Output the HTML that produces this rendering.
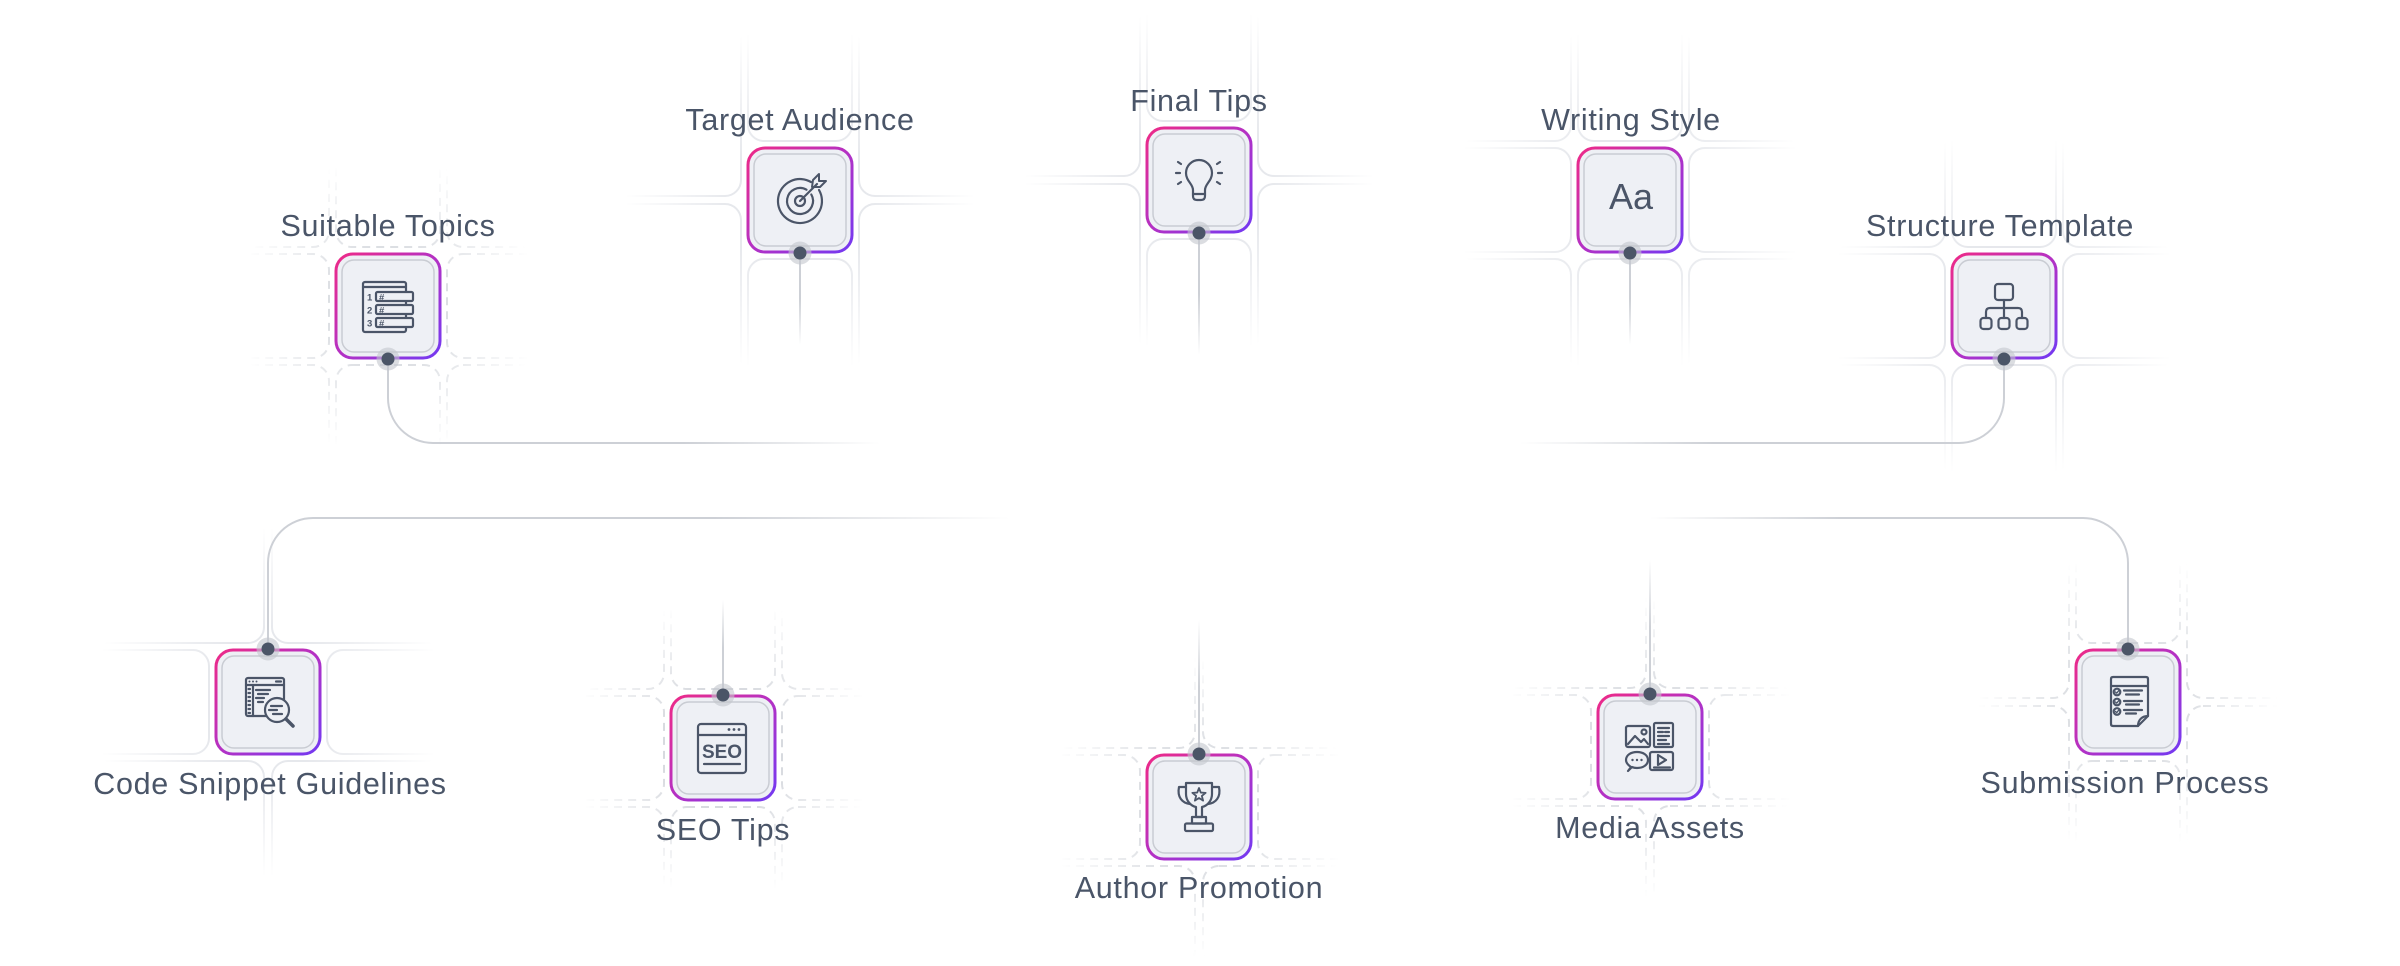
<!DOCTYPE html>
<html>
<head>
<meta charset="utf-8">
<style>
  html, body { margin: 0; padding: 0; background: #ffffff; width: 2400px; height: 966px; overflow: hidden; }
  svg { display: block; position: absolute; left: 0; top: 0; }
  .lbl { font-family: "Liberation Sans", sans-serif; font-size: 30.5px; fill: #4a5568; letter-spacing: 0.7px; text-anchor: middle; }
  .ic { fill: none; stroke: #4b5568; stroke-width: 2.2; stroke-linecap: round; stroke-linejoin: round; }
</style>
</head>
<body>
<svg width="2400" height="966" viewBox="0 0 2400 966" xmlns="http://www.w3.org/2000/svg" overflow="hidden">
<defs>
  <linearGradient id="bord" x1="0" y1="0" x2="1" y2="1">
    <stop offset="0" stop-color="#ee2a87"/>
    <stop offset="0.5" stop-color="#b431c4"/>
    <stop offset="1" stop-color="#7339f2"/>
  </linearGradient>
  <radialGradient id="rf" cx="0.5" cy="0.5" r="0.5">
    <stop offset="0" stop-color="#fff" stop-opacity="1"/>
    <stop offset="0.4" stop-color="#fff" stop-opacity="0.85"/>
    <stop offset="1" stop-color="#fff" stop-opacity="0"/>
  </radialGradient>
  <mask id="mS" maskUnits="userSpaceOnUse" x="-175" y="-175" width="350" height="350">
    <rect x="-175" y="-175" width="350" height="350" fill="url(#rf)"/>
  </mask>
  <mask id="mD" maskUnits="userSpaceOnUse" x="-150" y="-150" width="300" height="300">
    <rect x="-150" y="-150" width="300" height="300" fill="url(#rf)"/>
  </mask>

  <g id="gA">
    <rect x="-52" y="-209" width="104" height="150" rx="16"/>
    <rect x="-52" y="59" width="104" height="150" rx="16"/>
    <rect x="-209" y="-52" width="150" height="104" rx="16"/>
    <rect x="59" y="-52" width="150" height="104" rx="16"/>
    <rect x="-209" y="-209" width="150" height="150" rx="16"/>
    <rect x="59" y="-209" width="150" height="150" rx="16"/>
    <rect x="-209" y="59" width="150" height="150" rx="16"/>
    <rect x="59" y="59" width="150" height="150" rx="16"/>
  </g>
  <g id="gB">
    <rect x="-52" y="-209" width="104" height="150" rx="16"/>
    <rect x="-52" y="59" width="104" height="150" rx="16"/>
    <rect x="-209" y="-209" width="150" height="205" rx="16"/>
    <rect x="-209" y="4" width="150" height="205" rx="16"/>
    <rect x="59" y="-209" width="150" height="205" rx="16"/>
    <rect x="59" y="4" width="150" height="205" rx="16"/>
  </g>
  <g id="gC">
    <rect x="-209" y="-52" width="150" height="104" rx="16"/>
    <rect x="59" y="-52" width="150" height="104" rx="16"/>
    <rect x="-209" y="-209" width="205" height="150" rx="16"/>
    <rect x="4" y="-209" width="205" height="150" rx="16"/>
    <rect x="-209" y="59" width="205" height="150" rx="16"/>
    <rect x="4" y="59" width="205" height="150" rx="16"/>
  </g>
  <g id="gCs">
    <rect x="-209" y="-52" width="150" height="104" rx="16"/>
    <rect x="59" y="-52" width="150" height="104" rx="16"/>
    <rect x="-209" y="-209" width="205" height="150" rx="16"/>
    <rect x="4" y="-209" width="205" height="150" rx="16"/>
    <rect x="-209" y="59" width="205" height="100" rx="16"/>
    <rect x="4" y="59" width="205" height="100" rx="16"/>
  </g>

  <g id="box">
    <rect x="-52" y="-52" width="104" height="104" rx="17" fill="#eef0f5" stroke="url(#bord)" stroke-width="3"/>
    <rect x="-46" y="-46" width="92" height="92" rx="12" fill="none" stroke="#c9ccd3" stroke-width="1.5"/>
  </g>
  <g id="dot">
    <circle r="11.5" fill="#c3c6cd" fill-opacity="0.6"/>
    <circle r="6.5" fill="#4b5567"/>
  </g>

  <linearGradient id="c1" gradientUnits="userSpaceOnUse" x1="388" y1="0" x2="880" y2="0">
    <stop offset="0" stop-color="#cdd0d6"/><stop offset="0.6" stop-color="#cdd0d6"/><stop offset="1" stop-color="#cdd0d6" stop-opacity="0"/>
  </linearGradient>
  <linearGradient id="c2" gradientUnits="userSpaceOnUse" x1="2004" y1="0" x2="1520" y2="0">
    <stop offset="0" stop-color="#cdd0d6"/><stop offset="0.6" stop-color="#cdd0d6"/><stop offset="1" stop-color="#cdd0d6" stop-opacity="0"/>
  </linearGradient>
  <linearGradient id="c3" gradientUnits="userSpaceOnUse" x1="268" y1="0" x2="1010" y2="0">
    <stop offset="0" stop-color="#cdd0d6"/><stop offset="0.6" stop-color="#cdd0d6"/><stop offset="1" stop-color="#cdd0d6" stop-opacity="0"/>
  </linearGradient>
  <linearGradient id="c4" gradientUnits="userSpaceOnUse" x1="2128" y1="0" x2="1650" y2="0">
    <stop offset="0" stop-color="#cdd0d6"/><stop offset="0.6" stop-color="#cdd0d6"/><stop offset="1" stop-color="#cdd0d6" stop-opacity="0"/>
  </linearGradient>
  <linearGradient id="vd" x1="0" y1="0" x2="0" y2="1">
    <stop offset="0" stop-color="#cdd0d6"/><stop offset="0.5" stop-color="#cdd0d6"/><stop offset="1" stop-color="#cdd0d6" stop-opacity="0"/>
  </linearGradient>
  <linearGradient id="vu" x1="0" y1="1" x2="0" y2="0">
    <stop offset="0" stop-color="#cdd0d6"/><stop offset="0.5" stop-color="#cdd0d6"/><stop offset="1" stop-color="#cdd0d6" stop-opacity="0"/>
  </linearGradient>
</defs>

<rect width="2400" height="966" fill="#ffffff"/>

<g fill="none">
  <g transform="translate(800,200)" mask="url(#mS)"><use href="#gB" stroke="#e2e4e9" stroke-width="2"/></g>
  <g transform="translate(1199,180)" mask="url(#mS)"><use href="#gB" stroke="#e2e4e9" stroke-width="2"/></g>
  <g transform="translate(1630,200)" mask="url(#mS)"><use href="#gA" stroke="#e2e4e9" stroke-width="2"/></g>
  <g transform="translate(2004,306)" mask="url(#mS)"><use href="#gA" stroke="#e2e4e9" stroke-width="2"/></g>
  <g transform="translate(268,702)" mask="url(#mS)"><use href="#gC" stroke="#e2e4e9" stroke-width="2"/></g>
  <g transform="translate(388,306)" mask="url(#mD)"><use href="#gA" stroke="#d6d9de" stroke-width="2" stroke-dasharray="8 6"/></g>
  <g transform="translate(723,748)" mask="url(#mD)"><use href="#gA" stroke="#d0d3d9" stroke-width="2" stroke-dasharray="8 6"/></g>
  <g transform="translate(1199,807)" mask="url(#mD)"><use href="#gCs" stroke="#d6d9de" stroke-width="2" stroke-dasharray="8 6"/></g>
  <g transform="translate(1650,747)" mask="url(#mD)"><use href="#gC" stroke="#d6d9de" stroke-width="2" stroke-dasharray="8 6"/></g>
  <g transform="translate(2128,702)" mask="url(#mD)"><use href="#gB" stroke="#d6d9de" stroke-width="2" stroke-dasharray="8 6"/></g>
</g>

<g fill="none" stroke-width="2">
  <path d="M388,360 V398 A45,45 0 0 0 433,443 H880" stroke="url(#c1)"/>
  <path d="M2004,360 V398 A45,45 0 0 1 1959,443 H1520" stroke="url(#c2)"/>
  <path d="M268,649 V563 A45,45 0 0 1 313,518 H1010" stroke="url(#c3)"/>
  <path d="M2128,649 V563 A45,45 0 0 0 2083,518 H1650" stroke="url(#c4)"/>
  <rect x="799" y="253" width="2" height="92" fill="url(#vd)" stroke="none"/>
  <rect x="1198" y="233" width="2" height="122" fill="url(#vd)" stroke="none"/>
  <rect x="1629" y="253" width="2" height="92" fill="url(#vd)" stroke="none"/>
  <rect x="722" y="600" width="2" height="95" fill="url(#vu)" stroke="none"/>
  <rect x="1198" y="620" width="2" height="134" fill="url(#vu)" stroke="none"/>
  <rect x="1649" y="560" width="2" height="134" fill="url(#vu)" stroke="none"/>
</g>

<!-- Suitable Topics -->
<g transform="translate(388,306)">
  <use href="#box"/>
  <g class="ic" stroke-width="1.8">
    <rect x="-25" y="-24" width="43" height="50" rx="2"/>
    <line x1="-25" y1="-19" x2="18" y2="-19"/>
    <rect x="-12" y="-14" width="37" height="9" rx="1.5" fill="#eef0f5"/>
    <rect x="-12" y="-1" width="37" height="9" rx="1.5" fill="#eef0f5"/>
    <rect x="-12" y="12" width="37" height="9" rx="1.5" fill="#eef0f5"/>
  </g>
  <g font-family="Liberation Sans, sans-serif" font-size="9.5" font-weight="bold" fill="#4b5568">
    <text x="-21" y="-5.5">1</text><text x="-21" y="7.5">2</text><text x="-21" y="20.5">3</text>
    <text x="-9" y="-5.5">#</text><text x="-9" y="7.5">#</text><text x="-9" y="20.5">#</text>
  </g>
</g>
<use href="#dot" x="388" y="359"/>

<!-- Target Audience -->
<g transform="translate(800,200)">
  <use href="#box"/>
  <g class="ic" stroke-width="2.4">
    <path d="M11,-18 A22,22 0 1 0 19,-10"/>
    <path d="M6.5,-10.3 A13,13 0 1 0 11.3,-5.5"/>
    <circle cx="0" cy="1" r="5"/>
    <line x1="0" y1="1" x2="17" y2="-16"/>
    <path d="M12,-13 L13,-20 L19,-26 L19,-19 L26,-19 L20,-13 Z" stroke-width="2"/>
  </g>
</g>
<use href="#dot" x="800" y="253"/>

<!-- Final Tips -->
<g transform="translate(1199,180)">
  <use href="#box"/>
  <g class="ic" stroke-width="2.4">
    <path d="M-6,10 C-6,4 -13,1 -13,-7 A13,13 0 1 1 13,-7 C13,1 6,4 6,10 V16 Q6,20 2,20 H-2 Q-6,20 -6,16 Z"/>
    <line x1="-6" y1="14" x2="6" y2="14"/>
    <line x1="-23" y1="-7" x2="-19" y2="-7"/>
    <line x1="19" y1="-7" x2="23" y2="-7"/>
    <line x1="-21" y1="-18" x2="-18" y2="-16"/>
    <line x1="21" y1="-18" x2="18" y2="-16"/>
    <line x1="-21" y1="4" x2="-18" y2="2"/>
    <line x1="21" y1="4" x2="18" y2="2"/>
  </g>
</g>
<use href="#dot" x="1199" y="233"/>

<!-- Writing Style -->
<g transform="translate(1630,200)">
  <use href="#box"/>
  <text x="1" y="9" text-anchor="middle" font-family="Liberation Sans, sans-serif" font-size="36" fill="#4b5568">Aa</text>
</g>
<use href="#dot" x="1630" y="253"/>

<!-- Structure Template -->
<g transform="translate(2004,306)">
  <use href="#box"/>
  <g class="ic" stroke-width="2.4">
    <rect x="-9" y="-22" width="18" height="16" rx="3"/>
    <line x1="0" y1="-6" x2="0" y2="12"/>
    <path d="M-18,12 V6 Q-18,2 -14,2 H14 Q18,2 18,6 V12"/>
    <rect x="-23.5" y="12" width="11" height="11" rx="3"/>
    <rect x="-5.5" y="12" width="11" height="11" rx="3"/>
    <rect x="12.5" y="12" width="11" height="11" rx="3"/>
  </g>
</g>
<use href="#dot" x="2004" y="359"/>

<!-- Code Snippet Guidelines -->
<g transform="translate(268,702)">
  <use href="#box"/>
  <g class="ic" stroke-width="1.8">
    <rect x="-22" y="-24" width="38" height="38" rx="2"/>
    <line x1="-22" y1="-17" x2="16" y2="-17"/>
    <line x1="-15" y1="-17" x2="-15" y2="14"/>
    <line x1="8" y1="-20.5" x2="13" y2="-20.5"/>
    <line x1="-19.5" y1="-13" x2="-18" y2="-13"/>
    <line x1="-19.5" y1="-9" x2="-18" y2="-9"/>
    <line x1="-19.5" y1="-5" x2="-18" y2="-5"/>
    <line x1="-19.5" y1="-1" x2="-18" y2="-1"/>
    <line x1="-19.5" y1="3" x2="-18" y2="3"/>
    <line x1="-19.5" y1="7" x2="-18" y2="7"/>
    <line x1="-19.5" y1="11" x2="-18" y2="11"/>
    <line x1="-12" y1="-12" x2="2" y2="-12"/>
    <line x1="-10" y1="-8" x2="0" y2="-8"/>
    <line x1="-12" y1="-4" x2="-4" y2="-4"/>
    <line x1="-10" y1="0" x2="-5" y2="0"/>
    <circle cx="9" cy="8" r="12" fill="#eef0f5"/>
    <line x1="3" y1="4" x2="14" y2="4"/>
    <line x1="1" y1="8" x2="9" y2="8"/>
    <line x1="5" y1="12" x2="14" y2="12"/>
    <line x1="18" y1="17" x2="25" y2="24" stroke-width="3.5"/>
  </g>
  <g fill="#4b5568">
    <circle cx="-18.5" cy="-20.5" r="1"/><circle cx="-15" cy="-20.5" r="1"/><circle cx="-11.5" cy="-20.5" r="1"/>
  </g>
</g>
<use href="#dot" x="268" y="649"/>

<!-- SEO Tips -->
<g transform="translate(723,748)">
  <use href="#box"/>
  <g class="ic" stroke-width="2.4">
    <rect x="-25" y="-24" width="48" height="49" rx="3"/>
    <line x1="-25" y1="-13" x2="23" y2="-13"/>
    <line x1="-19" y1="16" x2="17" y2="16"/>
  </g>
  <g fill="#4b5568">
    <circle cx="6" cy="-18.5" r="1.4"/><circle cx="11" cy="-18.5" r="1.4"/><circle cx="16" cy="-18.5" r="1.4"/>
  </g>
  <text x="-1" y="10" text-anchor="middle" font-family="Liberation Sans, sans-serif" font-size="19" font-weight="bold" fill="#4b5568">SEO</text>
</g>
<use href="#dot" x="723" y="695"/>

<!-- Author Promotion -->
<g transform="translate(1199,807)">
  <use href="#box"/>
  <g class="ic" stroke-width="2.2">
    <path d="M-13,-24 H13 V-13 C13,-6 8,-1 3,0 V10 H-3 V0 C-8,-1 -13,-6 -13,-13 Z"/>
    <path d="M-13,-20 H-20 C-22,-10 -17,-4 -9,-3"/>
    <path d="M13,-20 H20 C22,-10 17,-4 9,-3"/>
    <rect x="-7" y="10" width="14" height="6.5"/>
    <rect x="-14" y="16.5" width="28" height="7.5" rx="1.5"/>
    <polygon points="0,-19 1.76,-14.43 6.66,-14.16 2.85,-11.07 4.11,-6.34 0,-9 -4.11,-6.34 -2.85,-11.07 -6.66,-14.16 -1.76,-14.43" stroke-width="1.8"/>
  </g>
</g>
<use href="#dot" x="1199" y="754"/>

<!-- Media Assets -->
<g transform="translate(1650,747)">
  <use href="#box"/>
  <g class="ic" stroke-width="1.8">
    <rect x="-24" y="-21" width="24" height="21" rx="2"/>
    <polyline points="-22,-3 -15,-11 -9,-5 -6,-8 -2,-3"/>
    <circle cx="-6" cy="-15" r="2.5"/>
    <rect x="4" y="-24" width="19" height="24" rx="1.5"/>
    <line x1="8" y1="-19" x2="19" y2="-19"/>
    <line x1="8" y1="-15" x2="13" y2="-15"/><line x1="15" y1="-15" x2="19" y2="-15"/>
    <line x1="8" y1="-11" x2="19" y2="-11"/>
    <line x1="8" y1="-7" x2="16" y2="-7"/>
    <line x1="8" y1="-3" x2="19" y2="-3"/>
    <path d="M-19,20 C-22,18 -24,16 -24,13 C-24,8 -19,5 -13,5 C-7,5 -2,8 -2,13 C-2,18 -7,21 -13,21 C-15,21 -16,21 -18,20 L-22,24 Z"/>
    <rect x="0" y="5" width="23" height="18" rx="2"/>
    <path d="M8,8 L16,13 L8,18 Z"/>
    <line x1="4" y1="20.5" x2="20" y2="20.5"/>
  </g>
  <g fill="#4b5568">
    <circle cx="-17.5" cy="13" r="1.2"/><circle cx="-13" cy="13" r="1.2"/><circle cx="-8.5" cy="13" r="1.2"/>
  </g>
</g>
<use href="#dot" x="1650" y="694"/>

<!-- Submission Process -->
<g transform="translate(2128,702)">
  <use href="#box"/>
  <g class="ic" stroke-width="1.8">
    <path d="M-15,-25 H18 Q20,-25 20,-23 V14 L10,24 H-15 Q-17,24 -17,22 V-23 Q-17,-25 -15,-25 Z"/>
    <line x1="-17" y1="-16" x2="20" y2="-16"/>
    <path d="M10,24 C10,18 14,14 20,14"/>
    <circle cx="-11" cy="-10" r="3.3"/>
    <circle cx="-11" cy="0" r="3.3"/>
    <circle cx="-11" cy="9.5" r="3.3"/>
    <polyline points="-12.5,-10 -11.3,-8.8 -9.3,-11.3" stroke-width="1.3"/>
    <polyline points="-12.5,0 -11.3,1.2 -9.3,-1.3" stroke-width="1.3"/>
    <polyline points="-12.5,9.5 -11.3,10.7 -9.3,8.2" stroke-width="1.3"/>
    <line x1="-4" y1="-11.5" x2="14" y2="-11.5"/>
    <line x1="-2" y1="-7.5" x2="11" y2="-7.5"/>
    <line x1="-4" y1="-1" x2="14" y2="-1"/>
    <line x1="-2" y1="2.5" x2="11" y2="2.5"/>
    <line x1="-4" y1="8" x2="14" y2="8"/>
    <line x1="-2" y1="11.5" x2="8" y2="11.5"/>
  </g>
</g>
<use href="#dot" x="2128" y="649"/>

<text class="lbl" x="388" y="236">Suitable Topics</text>
<text class="lbl" x="800" y="130">Target Audience</text>
<text class="lbl" x="1199" y="111">Final Tips</text>
<text class="lbl" x="1631" y="130">Writing Style</text>
<text class="lbl" x="2000" y="236">Structure Template</text>
<text class="lbl" x="270" y="794">Code Snippet Guidelines</text>
<text class="lbl" x="723" y="840">SEO Tips</text>
<text class="lbl" x="1199" y="898">Author Promotion</text>
<text class="lbl" x="1650" y="838">Media Assets</text>
<text class="lbl" x="2125" y="793">Submission Process</text>
</svg>
</body>
</html>
